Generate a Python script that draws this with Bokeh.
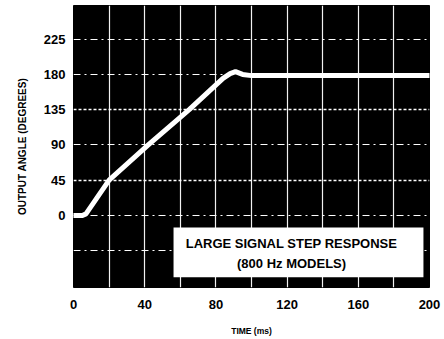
from bokeh.plotting import figure
from bokeh.models import FixedTicker, Range1d, BoxAnnotation, Label, Grid
from bokeh.embed import file_html
from bokeh.resources import INLINE

# data
time_ms = [0, 5, 7, 20, 42, 65, 84, 88, 91, 95, 100, 200]
angle_deg = [0, 0, 2, 45, 90, 135, 175, 181, 183.5, 180, 178.5, 178.5]

x_ticks = [0, 40, 80, 120, 160, 200]
x_grid = [20, 40, 60, 80, 100, 120, 140, 160, 180]
y_ticks = [0, 45, 90, 135, 180, 225]
y_grid_dash = [-45, 0, 90, 180, 225]
y_grid_dot = [45, 135]

note_line1 = "LARGE SIGNAL STEP RESPONSE"
note_line2 = "(800 Hz MODELS)"

FONT = "Liberation Sans"

p = figure(width=444, height=339, x_range=Range1d(0, 200), y_range=Range1d(-92, 268),
           output_backend="svg", toolbar_location=None,
           min_border_left=73, min_border_right=15, min_border_top=5, min_border_bottom=52)
p.background_fill_color = "black"
p.border_fill_color = "white"
p.outline_line_color = "black"

for ax in (p.xaxis, p.yaxis):
    ax.axis_line_color = None
    ax.major_tick_line_color = None
    ax.minor_tick_line_color = None
    ax.major_tick_out = 0
    ax.major_tick_in = 0
    ax.minor_tick_out = 0
    ax.minor_tick_in = 0
    ax.major_label_text_font = FONT
    ax.major_label_text_font_style = "bold"
    ax.major_label_text_font_size = "13px"
    ax.major_label_text_color = "black"
    ax.axis_label_text_font = FONT
    ax.axis_label_text_font_style = "bold"
    ax.axis_label_text_color = "black"

p.xaxis.ticker = FixedTicker(ticks=x_ticks)
p.yaxis.ticker = FixedTicker(ticks=y_ticks)
p.xaxis.major_label_standoff = 12
p.yaxis.major_label_standoff = 8
p.xaxis.axis_label = "TIME (ms)"
p.xaxis.axis_label_text_font_size = "8.5px"
p.xaxis.axis_label_standoff = 14
p.yaxis.axis_label = "OUTPUT ANGLE (DEGREES)"
p.yaxis.axis_label_text_font_size = "10px"
p.yaxis.axis_label_standoff = 13

p.xgrid.ticker = FixedTicker(ticks=x_grid)
p.xgrid.grid_line_color = "white"
p.xgrid.grid_line_width = 1.2
p.xgrid.grid_line_alpha = 0.95

p.ygrid.ticker = FixedTicker(ticks=y_grid_dash)
p.ygrid.grid_line_color = "white"
p.ygrid.grid_line_width = 1
p.ygrid.grid_line_dash = "7 4 2 4"

g2 = Grid(dimension=1, ticker=FixedTicker(ticks=y_grid_dot),
          grid_line_color="white", grid_line_width=1.5, grid_line_dash="3 2")
p.add_layout(g2)

p.line(time_ms, angle_deg, line_color="white", line_width=5, line_join="round", line_cap="round")

box = BoxAnnotation(left=56.2, right=196.6, bottom=-79, top=-15.3,
                    fill_color="white", fill_alpha=1, line_color=None)
p.add_layout(box)
p.add_layout(Label(x=122.5, y=-35.7, text=note_line1, text_align="center", text_baseline="middle",
                   text_font=FONT, text_font_style="bold", text_font_size="13px", text_color="black"))
p.add_layout(Label(x=122.5, y=-61.2, text=note_line2, text_align="center", text_baseline="middle",
                   text_font=FONT, text_font_style="bold", text_font_size="13px", text_color="black"))

open("out.html", "w").write(file_html(p, INLINE))
